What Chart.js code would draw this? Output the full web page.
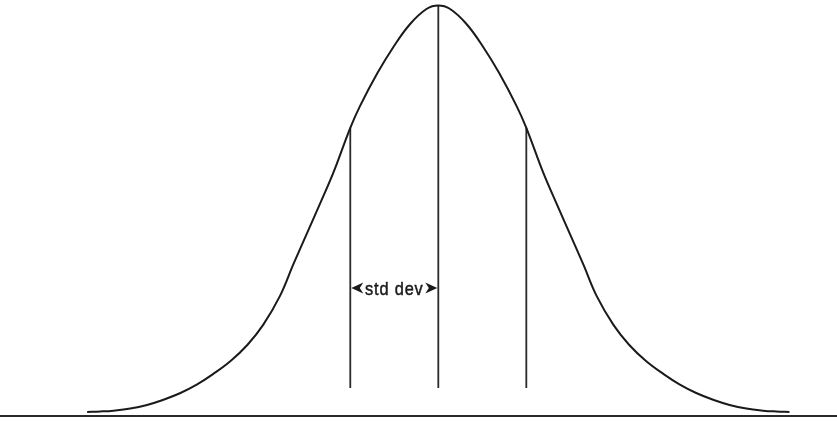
<!DOCTYPE html>
<html>
<head>
<meta charset="utf-8">
<script src="https://cdn.jsdelivr.net/npm/chart.js@4"></script>
<style>
  html, body { margin: 0; padding: 0; background: #fff; }
  .wrap { width: 837px; height: 421px; }
</style>
</head>
<body>
<div class="wrap"><canvas id="grafico"></canvas></div>
<script>
// bell curve, x in std devs, y in % of peak height
const curveX = [-3.99, -3.84, -3.69, -3.5, -3.31, -3.13, -2.93, -2.74, -2.56, -2.36, -2.17, -1.99,
                -1.8, -1.65, -1.49, -1.34, -1.19, -1.0, -0.89, -0.69, -0.51, -0.32, -0.13, 0,
                0.13, 0.32, 0.51, 0.69, 0.89, 1.0, 1.19, 1.34, 1.49, 1.65, 1.8,
                1.99, 2.17, 2.36, 2.56, 2.74, 2.93, 3.13, 3.31, 3.5, 3.69, 3.84, 3.99]
const curveY = [1.0, 1.1, 1.3, 1.8, 2.7, 3.9, 5.6, 7.7, 10.2, 13.4, 17.3, 22.2,
                29.2, 36.8, 44.6, 51.9, 59.4, 70.2, 75.5, 83.6, 89.9, 95.5, 99.2, 100,
                99.2, 95.5, 89.9, 83.6, 75.5, 70.2, 59.4, 51.9, 44.6, 36.8, 29.2,
                22.2, 17.3, 13.4, 10.2, 7.7, 5.6, 3.9, 2.7, 1.8, 1.3, 1.1, 1.0]

// vertical marker lines at -1, 0, +1 std dev
const markX = [-1, 0, 1]
const markTop = [70.2, 100, 70.2]
const markBottom = 6.8

// baseline
const baseX = [-4.98, 4.53]
const baseY = 0

const labelText = 'std dev'
const labelY = 31.2

const ink = '#1a1a1a'

const datasets = [{
    data: curveX.map((x, i) => ({x: x, y: curveY[i]})),
    showLine: true,
    borderColor: ink,
    borderWidth: 2,
    pointRadius: 0,
    tension: 0.4
}, {
    data: baseX.map(x => ({x: x, y: baseY})),
    showLine: true,
    borderColor: '#2a2a2a',
    borderWidth: 2,
    pointRadius: 0
}]
markX.forEach((x, i) => {
    datasets.push({
        data: [{x: x, y: markBottom}, {x: x, y: markTop[i]}],
        showLine: true,
        borderColor: '#2a2a2a',
        borderWidth: 1.8,
        pointRadius: 0
    })
})

//Etiqueta "std dev" con flechas
const labelPlugin = {
    id: 'stdLabel',
    afterDatasetsDraw(chart) {
        const ctx = chart.ctx
        const xs = chart.scales.x, ys = chart.scales.y
        const x1 = xs.getPixelForValue(markX[0])
        const x2 = xs.getPixelForValue(markX[1])
        const py = ys.getPixelForValue(labelY)
        ctx.save()
        ctx.fillStyle = ink
        ctx.strokeStyle = ink
        // letra condensada: se comprime en horizontal
        ctx.translate((x1 + x2) / 2, py + 7)
        ctx.scale(0.86, 1)
        ctx.font = '19px "Liberation Sans", Arial, sans-serif'
        ctx.letterSpacing = '1px'
        ctx.textAlign = 'center'
        ctx.textBaseline = 'alphabetic'
        ctx.lineWidth = 0.5
        ctx.fillText(labelText, 0, 0)
        ctx.strokeText(labelText, 0, 0)
        ctx.restore()
        ctx.save()
        ctx.fillStyle = ink
        const arrow = (tip, dir) => {
            ctx.beginPath()
            ctx.moveTo(tip, py)
            ctx.lineTo(tip + dir * 12, py - 5.5)
            ctx.lineTo(tip + dir * 8.5, py)
            ctx.lineTo(tip + dir * 12, py + 5.5)
            ctx.closePath()
            ctx.fill()
        }
        arrow(x1 + 1, 1)
        arrow(x2 - 1, -1)
        ctx.restore()
    }
}

const ctx = document.getElementById('grafico').getContext('2d')
new Chart(ctx, {
    type: 'scatter',
    data: { datasets: datasets },
    options: {
        responsive: true,
        maintainAspectRatio: false,
        animation: false,
        layout: { padding: 0 },
        plugins: { legend: { display: false }, tooltip: { enabled: false } },
        scales: {
            x: { type: 'linear', min: -4.98, max: 4.53, display: false },
            y: { min: -1.22, max: 101.34, display: false }
        }
    },
    plugins: [labelPlugin]
})
</script>
</body>
</html>
